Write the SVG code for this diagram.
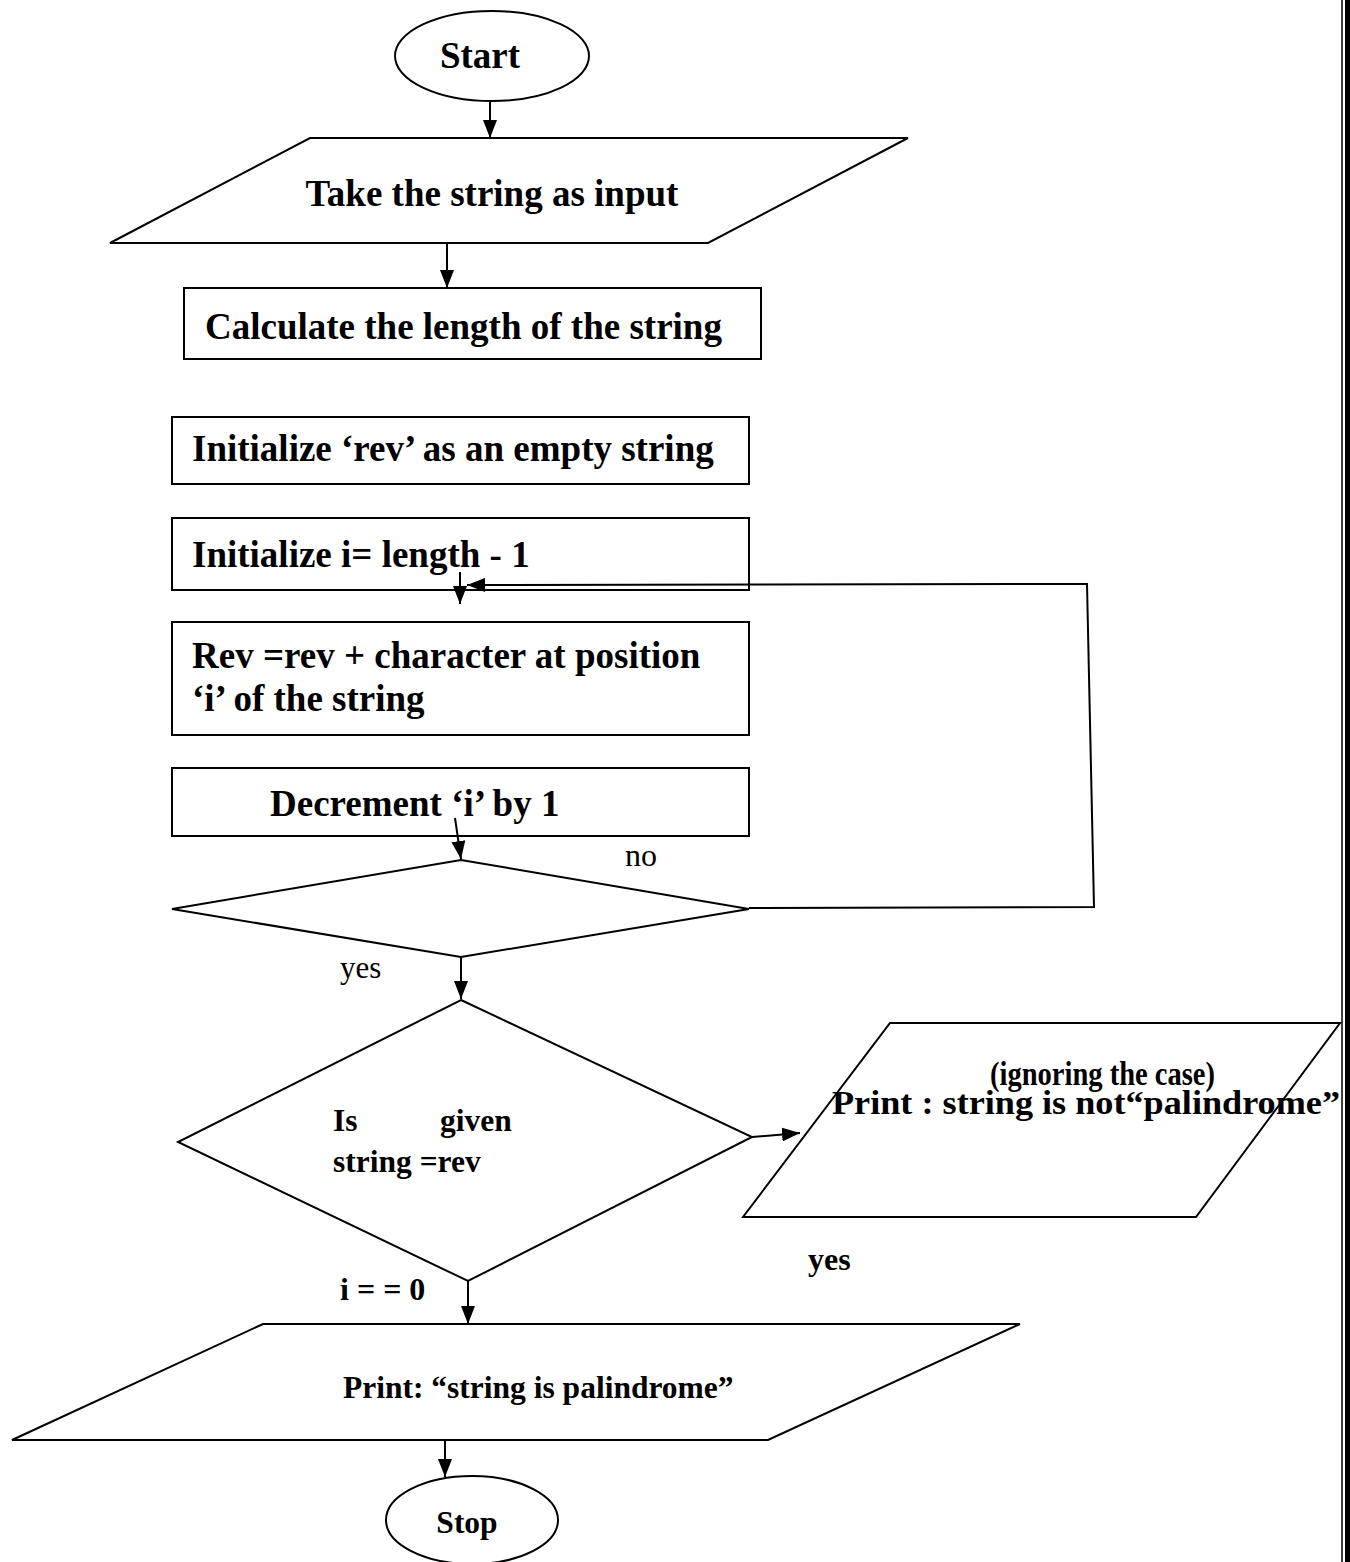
<svg xmlns="http://www.w3.org/2000/svg" width="1350" height="1562" viewBox="0 0 1350 1562">
  <style>
    .shape { fill: #fff; stroke: #000; stroke-width: 2; }
    .line { fill: none; stroke: #000; stroke-width: 2; }
    .b { font-family: "Liberation Serif", "Times New Roman", serif; font-weight: bold; fill: #000; }
    .r { font-family: "Liberation Serif", "Times New Roman", serif; fill: #000; }
  </style>
  <defs>
    <marker id="head" viewBox="0 0 18 14" refX="18" refY="7" markerWidth="18" markerHeight="14" markerUnits="userSpaceOnUse" orient="auto">
      <path d="M0,0 L18,7 L0,14 Z" fill="#000"/>
    </marker>
  </defs>

  <rect width="1350" height="1562" fill="#fff"/>

  <!-- page border on the right -->
  <line x1="1342" y1="0" x2="1342" y2="1562" stroke="#000" stroke-width="1.5"/>
  <rect x="1345" y="0" width="5" height="1562" fill="#000"/>

  <g id="start">
    <ellipse class="shape" cx="492" cy="56" rx="97" ry="45"/>
    <text class="b" x="480" y="68" font-size="37" text-anchor="middle">Start</text>
  </g>

  <g id="input">
    <polygon class="shape" points="310,138 908,138 708,243 110,243"/>
    <text class="b" x="492" y="206" font-size="37" text-anchor="middle">Take the string as input</text>
  </g>

  <g id="length">
    <rect class="shape" x="184" y="288" width="577" height="71"/>
    <text class="b" x="205" y="339" font-size="37">Calculate the length of the string</text>
  </g>

  <g id="init-rev">
    <rect class="shape" x="172" y="417" width="577" height="67"/>
    <text class="b" x="192" y="461" font-size="37">Initialize ‘rev’ as an empty string</text>
  </g>

  <g id="init-i">
    <rect class="shape" x="172" y="518" width="577" height="72"/>
    <text class="b" x="192" y="567" font-size="37">Initialize i= length - 1</text>
  </g>

  <g id="append">
    <rect class="shape" x="172" y="622" width="577" height="113"/>
    <text class="b" x="192" y="668" font-size="37">Rev =rev + character at position</text>
    <text class="b" x="192" y="711" font-size="37">‘i’ of the string</text>
  </g>

  <g id="decrement">
    <rect class="shape" x="172" y="768" width="577" height="68"/>
    <text class="b" x="270" y="816" font-size="37">Decrement ‘i’ by 1</text>
  </g>

  <g id="loop-check">
    <polygon class="shape" points="461,860 749,909 461,957 172,909"/>
  </g>

  <g id="compare">
    <polygon class="shape" points="461,1000 752,1137 468,1281 178,1142"/>
    <text class="b" x="333" y="1131" font-size="31.5">Is</text>
    <text class="b" x="440" y="1131" font-size="31.5">given</text>
    <text class="b" x="333" y="1172" font-size="31.5">string =rev</text>
  </g>

  <g id="not-palindrome">
    <polygon class="shape" points="890,1023 1340,1023 1196,1217 743,1217"/>
    <text class="b" x="990" y="1085" font-size="33" textLength="225" lengthAdjust="spacingAndGlyphs">(ignoring the case)</text>
    <text class="b" x="832" y="1114" font-size="33" textLength="508" lengthAdjust="spacingAndGlyphs">Print : string is not“palindrome”</text>
  </g>

  <g id="palindrome">
    <polygon class="shape" points="263,1324 1020,1324 768,1440 12,1440"/>
    <text class="b" x="343" y="1398" font-size="31.5">Print: “string is palindrome”</text>
  </g>

  <g id="stop">
    <ellipse class="shape" cx="472" cy="1520" rx="86" ry="44"/>
    <text class="b" x="467" y="1533" font-size="31.5" text-anchor="middle">Stop</text>
  </g>

  <g id="labels">
    <text class="r" x="625" y="866" font-size="32">no</text>
    <text class="r" x="340" y="978" font-size="31">yes</text>
    <text class="b" x="808" y="1270" font-size="32">yes</text>
    <text class="b" x="340" y="1300" font-size="32">i = = 0</text>
  </g>

  <g id="connectors">
    <line class="line" x1="490" y1="101" x2="490" y2="138" marker-end="url(#head)"/>
    <line class="line" x1="447" y1="243" x2="447" y2="288" marker-end="url(#head)"/>
    <line class="line" x1="460" y1="572" x2="460" y2="604" marker-end="url(#head)"/>
    <polyline class="line" points="749,908 1094,907 1087,584 467,585" marker-end="url(#head)"/>
    <line class="line" x1="455" y1="818" x2="461" y2="859" marker-end="url(#head)"/>
    <line class="line" x1="461" y1="957" x2="461" y2="999" marker-end="url(#head)"/>
    <line class="line" x1="752" y1="1137" x2="800" y2="1133" marker-end="url(#head)"/>
    <line class="line" x1="468" y1="1281" x2="468" y2="1324" marker-end="url(#head)"/>
    <line class="line" x1="445" y1="1440" x2="445" y2="1477" marker-end="url(#head)"/>
  </g>
</svg>
